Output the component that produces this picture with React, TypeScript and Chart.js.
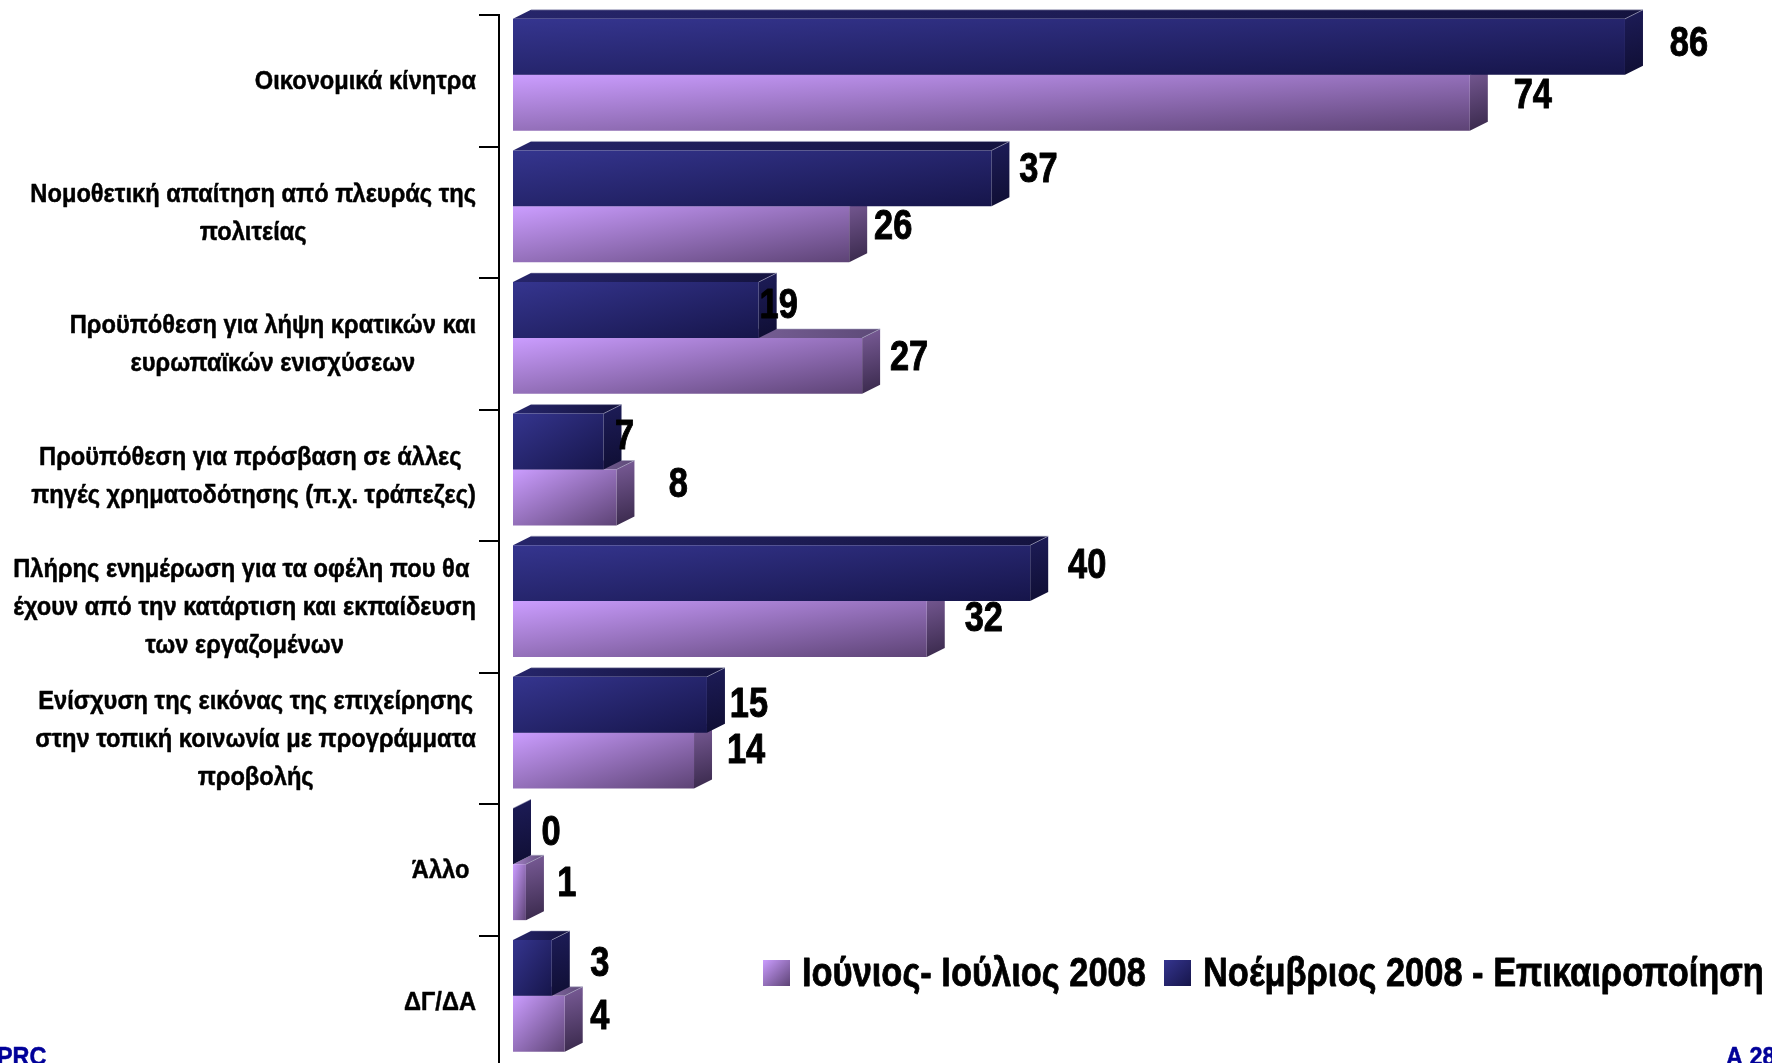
import React, { useEffect, useRef } from "react";
import { Chart, registerables } from "chart.js";

Chart.register(...registerables);

const categories: string[][] = [
  ["Οικονομικά κίνητρα"],
  ["Νομοθετική απαίτηση από πλευράς της", "πολιτείας"],
  ["Προϋπόθεση για λήψη κρατικών και", "ευρωπαϊκών ενισχύσεων"],
  ["Προϋπόθεση για πρόσβαση σε άλλες ", "πηγές χρηματοδότησης (π.χ. τράπεζες)"],
  ["Πλήρης ενημέρωση για τα οφέλη που θα ", "έχουν από την κατάρτιση και εκπαίδευση", "των εργαζομένων"],
  ["Ενίσχυση της εικόνας της επιχείρησης", "στην τοπική κοινωνία με προγράμματα", "προβολής"],
  ["Άλλο "],
  ["ΔΓ/ΔΑ"],
];
const novemberValues = [86, 37, 19, 7, 40, 15, 0, 3];
const juneValues = [74, 26, 27, 8, 32, 14, 1, 4];
const novemberName = "Νοέμβριος 2008 - Επικαιροποίηση";
const juneName = "Ιούνιος- Ιούλιος 2008";

// hand-placed value label nudges of the original, relative to bar end / bar centre
const novemberNudgeX = [64, 47, 20, 21, 57, 42, 38, 48];
const novemberNudgeY = [-3, -8, -4, -4, -7, 0, -3, -4];
const juneNudgeX = [63, 44, 47, 62, 57, 52, 41, 35];
const juneNudgeY = [-7, -7, -8, -12, -10, -9, -8, -7];

const DEPTH_X = 18;
const DEPTH_Y = 9;
const BAR_SHIFT = -6;
const PX_PER_UNIT = 12.93;
const AXIS_X = 499;
const ZERO_X = 513;
const FONT = '"Liberation Sans", Arial, sans-serif';

const darkPalette = {
  front: ["#35358f", "#16154a"],
  top: ["#26256a", "#14133f"],
  side: ["#1d1c58", "#0f0e33"],
};
const lightPalette = {
  front: ["#cb9dff", "#5d4375"],
  top: ["#a583c8", "#5d4a78"],
  side: ["#7a5c98", "#38284a"],
};

function diagGradient(ctx: CanvasRenderingContext2D, x: number, y: number, w: number, h: number, stops: string[]) {
  if (!(w > 0) || !(h > 0) || !Number.isFinite(x) || !Number.isFinite(y)) return stops[0];
  const t = (2 * w * h) / (h * h + w * w);
  const g = ctx.createLinearGradient(x, y, x + t * h, y + t * w);
  g.addColorStop(0, stops[0]);
  g.addColorStop(1, stops[1]);
  return g;
}

function frontColor(palette: typeof darkPalette, isUpper: boolean) {
  return (c: any) => {
    const chart = c.chart;
    const xs = chart.scales.x;
    const ys = chart.scales.y;
    if (!xs || !ys || c.raw === undefined) return palette.front[0];
    const h = (ys.height / categories.length) * 0.85 * 0.5;
    const x0 = xs.getPixelForValue(0);
    const w = xs.getPixelForValue(c.raw) - x0;
    const yc = ys.getPixelForValue(c.dataIndex);
    return diagGradient(chart.ctx, x0, isUpper ? yc - h : yc, w, h, palette.front);
  };
}

// the original's type is a condensed heavy face: squeeze Liberation Sans Bold and thicken it
function squeezedText(ctx: CanvasRenderingContext2D, text: string, x: number, y: number, sx: number, weight = 0.7) {
  ctx.save();
  ctx.translate(x, y);
  ctx.scale(sx, 1);
  ctx.strokeStyle = ctx.fillStyle;
  ctx.lineWidth = weight;
  ctx.lineJoin = "round";
  ctx.strokeText(text, 0, 0);
  ctx.fillText(text, 0, 0);
  ctx.restore();
}

const threeD = {
  id: "threeD",
  beforeDatasetsDraw(chart: any) {
    chart.ctx.save();
    chart.ctx.translate(0, BAR_SHIFT);
  },
  beforeDatasetDraw(chart: any, args: any) {
    const ctx = chart.ctx;
    const palette = args.index === 0 ? darkPalette : lightPalette;
    chart.getDatasetMeta(args.index).data.forEach((bar: any) => {
      const { x, y, base, height } = bar.getProps(["x", "y", "base", "height"]);
      const t = y - height / 2;
      const b = y + height / 2;
      const top = ctx.createLinearGradient(base, 0, Math.max(x, base + 1) + DEPTH_X, 0);
      top.addColorStop(0, palette.top[0]);
      top.addColorStop(1, palette.top[1]);
      ctx.fillStyle = top;
      ctx.beginPath();
      ctx.moveTo(base, t);
      ctx.lineTo(x, t);
      ctx.lineTo(x + DEPTH_X, t - DEPTH_Y);
      ctx.lineTo(base + DEPTH_X, t - DEPTH_Y);
      ctx.closePath();
      ctx.fill();
      const side = ctx.createLinearGradient(x, t - DEPTH_Y, x + DEPTH_X, b);
      side.addColorStop(0, palette.side[0]);
      side.addColorStop(1, palette.side[1]);
      ctx.fillStyle = side;
      ctx.beginPath();
      ctx.moveTo(x, t);
      ctx.lineTo(x + DEPTH_X, t - DEPTH_Y);
      ctx.lineTo(x + DEPTH_X, b - DEPTH_Y);
      ctx.lineTo(x, b);
      ctx.closePath();
      ctx.fill();
      ctx.strokeStyle = "rgba(170,170,195,0.55)";
      ctx.lineWidth = 1;
      ctx.beginPath();
      ctx.moveTo(base + DEPTH_X, t - DEPTH_Y);
      ctx.lineTo(x + DEPTH_X, t - DEPTH_Y);
      ctx.lineTo(x, t);
      ctx.stroke();
    });
  },
  afterDatasetsDraw(chart: any) {
    const ctx = chart.ctx;
    ctx.restore();
    ctx.save();
    ctx.fillStyle = "#000";
    ctx.textBaseline = "middle";
    ctx.textAlign = "center";
    ctx.font = `bold 43px ${FONT}`;
    const put = (di: number, vals: number[], nx: number[], ny: number[]) => {
      chart.getDatasetMeta(di).data.forEach((bar: any, i: number) => {
        const { x, y } = bar.getProps(["x", "y"]);
        squeezedText(ctx, String(vals[i]), x + nx[i], y + BAR_SHIFT + ny[i], 0.8, 1);
      });
    };
    put(0, novemberValues, novemberNudgeX, novemberNudgeY);
    put(1, juneValues, juneNudgeX, juneNudgeY);

    // category labels: centred block whose right edge sits on the tick-label margin
    const ys = chart.scales.y;
    const labelSqueeze = 0.91;
    ctx.font = `bold 26px ${FONT}`;
    categories.forEach((lines, i) => {
      const widest = Math.max(...lines.map((l) => ctx.measureText(l).width)) * labelSqueeze;
      const cx = 476 - widest / 2;
      const cy = ys.getPixelForValue(i) + 1;
      lines.forEach((l, k) => {
        squeezedText(ctx, l, cx, cy + (k - (lines.length - 1) / 2) * 38, labelSqueeze, 0.5);
      });
    });

    // legend
    const swatch = (x: number, stops: string[]) => {
      ctx.fillStyle = diagGradient(ctx, x, 960, 27, 26, stops);
      ctx.fillRect(x, 960, 27, 26);
    };
    swatch(763, lightPalette.front);
    swatch(1164, darkPalette.front);
    ctx.fillStyle = "#000";
    ctx.textAlign = "left";
    ctx.font = `bold 41px ${FONT}`;
    squeezedText(ctx, juneName, 802, 975, 0.84, 0.8);
    squeezedText(ctx, novemberName, 1203, 975, 0.84, 0.8);

    // footer
    ctx.fillStyle = "#000099";
    ctx.font = `bold 26px ${FONT}`;
    ctx.textBaseline = "top";
    ctx.textAlign = "left";
    squeezedText(ctx, "PRC", -3, 1045, 0.9, 0.5);
    squeezedText(ctx, "Α 28", 1726, 1045, 0.9, 0.5);
    ctx.restore();
  },
};

export default function App() {
  const ref = useRef<HTMLCanvasElement>(null);
  useEffect(() => {
    const chart = new Chart(ref.current as HTMLCanvasElement, {
      type: "bar",
      data: {
        labels: categories as any,
        datasets: [
          { label: novemberName, data: novemberValues, backgroundColor: frontColor(darkPalette, true) as any, clip: false as any },
          { label: juneName, data: juneValues, backgroundColor: frontColor(lightPalette, false) as any, clip: false as any },
        ],
      },
      options: {
        indexAxis: "y",
        responsive: false,
        animation: false,
        categoryPercentage: 0.85,
        barPercentage: 1,
        layout: { padding: { top: 15, bottom: 12.4, left: 0, right: 0 } },
        plugins: { legend: { display: false }, tooltip: { enabled: false } },
        scales: {
          x: {
            display: false,
            min: -(ZERO_X - AXIS_X) / PX_PER_UNIT,
            max: (1772 - ZERO_X) / PX_PER_UNIT,
          },
          y: {
            afterFit: (s: any) => { s.width = AXIS_X; },
            ticks: { display: false },
            grid: { drawOnChartArea: false, drawTicks: true, tickLength: 20, color: "#000", lineWidth: 2 },
            border: { color: "#000", width: 2 },
          },
        },
      } as any,
      plugins: [threeD],
    });
    return () => chart.destroy();
  }, []);
  return (
    <div style={{ position: "fixed", left: 0, top: 0, width: 1772, height: 1063, overflow: "hidden", background: "#fff" }}>
      <canvas ref={ref} width={1772} height={1080} style={{ display: "block" }} />
    </div>
  );
}
